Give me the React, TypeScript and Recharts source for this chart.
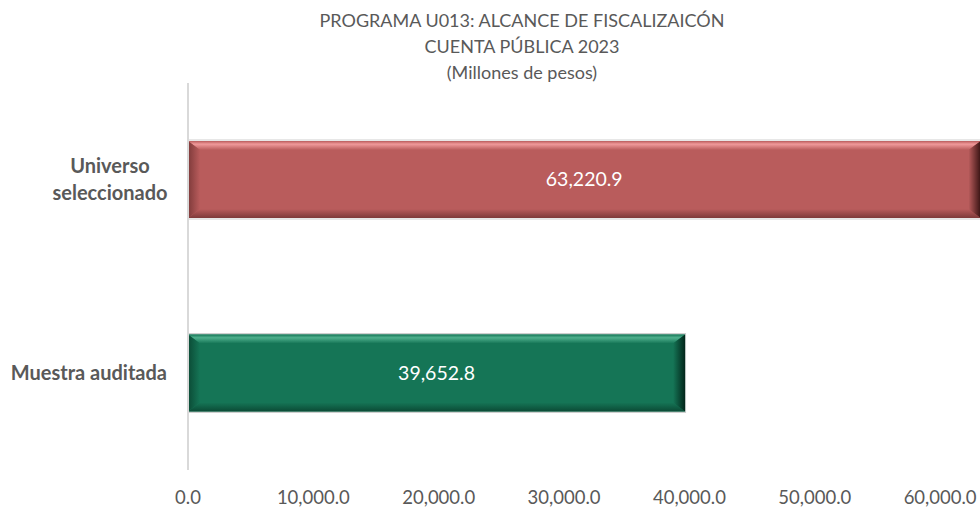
import { BarChart, Bar, XAxis, YAxis, Cell, LabelList } from "recharts";

const categories = ["Universo seleccionado", "Muestra auditada"];
const values = [63220.9, 39652.8];
const xTicks = [0, 10000, 20000, 30000, 40000, 50000, 60000];
const titleLines = [
  "PROGRAMA U013: ALCANCE DE FISCALIZAICÓN",
  "CUENTA PÚBLICA 2023",
  "(Millones de pesos)",
];

const PALETTE = [
  { main: "#B95C5C", light: "#F0999A", dark: "#7E3A3A", edge: "#3A1414" },
  { main: "#157556", light: "#4FB08D", dark: "#0B4A35", edge: "#02261A" },
];

const FONT = "Lato, 'Open Sans', sans-serif";

const chartData = categories.map((name, i) => ({ name, value: values[i] }));

const fmt = (v: number) =>
  v.toLocaleString("en-US", { minimumFractionDigits: 1, maximumFractionDigits: 1 });

function BevelBar(props: any) {
  const { x, y, width, height, index } = props;
  if (!width || width <= 0) return null;
  const c = PALETTE[index % PALETTE.length];
  const bx = Math.min(12, width / 4);
  const by = 9;
  const id = `bev${index}`;
  return (
    <g>
      <defs>
        <linearGradient id={`${id}t`} x1="0" y1="0" x2="0" y2="1">
          <stop offset="0" stopColor={c.main} />
          <stop offset="0.35" stopColor={c.light} />
          <stop offset="1" stopColor={c.main} />
        </linearGradient>
        <linearGradient id={`${id}b`} x1="0" y1="0" x2="0" y2="1">
          <stop offset="0" stopColor={c.main} />
          <stop offset="1" stopColor={c.dark} />
        </linearGradient>
        <linearGradient id={`${id}r`} x1="0" y1="0" x2="1" y2="0">
          <stop offset="0" stopColor={c.main} />
          <stop offset="1" stopColor={c.edge} />
        </linearGradient>
        <linearGradient id={`${id}l`} x1="0" y1="0" x2="1" y2="0">
          <stop offset="0" stopColor={c.dark} />
          <stop offset="1" stopColor={c.main} />
        </linearGradient>
      </defs>
      <rect x={x - 0.5} y={y - 1} width={width + 1} height={height + 2} fill="none" stroke="#cfcfcf" strokeWidth={1} />
      <rect x={x} y={y} width={width} height={height} fill={c.main} />
      <polygon
        points={`${x},${y} ${x + width},${y} ${x + width - bx},${y + by} ${x + bx},${y + by}`}
        fill={`url(#${id}t)`}
      />
      <polygon
        points={`${x},${y + height} ${x + width},${y + height} ${x + width - bx},${y + height - by} ${x + bx},${y + height - by}`}
        fill={`url(#${id}b)`}
      />
      <polygon
        points={`${x},${y} ${x + bx},${y + by} ${x + bx},${y + height - by} ${x},${y + height}`}
        fill={`url(#${id}l)`}
      />
      <polygon
        points={`${x + width},${y} ${x + width - bx},${y + by} ${x + width - bx},${y + height - by} ${x + width},${y + height}`}
        fill={`url(#${id}r)`}
      />
    </g>
  );
}

function CategoryTick(props: any) {
  const { x, y, payload } = props;
  const label: string = payload.value;
  const lines = label === "Universo seleccionado" ? ["Universo", "seleccionado"] : [label];
  const right = x - 13;
  const anchor = lines.length > 1 ? "middle" : "end";
  const ax = lines.length > 1 ? right - 57 : right;
  const lh = 27;
  const start = y - ((lines.length - 1) * lh) / 2;
  return (
    <text
      textAnchor={anchor}
      fill="#595959"
      fontFamily={FONT}
      fontSize={20}
      fontWeight={700}
    >
      {lines.map((l, i) => (
        <tspan key={i} x={ax} y={start + i * lh} dy="0.35em">
          {l}
        </tspan>
      ))}
    </text>
  );
}

export default function App() {
  return (
    <div style={{ position: "absolute", left: 0, top: 0, width: 980, height: 508, overflow: "hidden", background: "#fff" }}>
      <div
        style={{
          position: "absolute",
          left: 222,
          top: 7,
          width: 600,
          textAlign: "center",
          fontFamily: FONT,
          fontSize: 18,
          lineHeight: "26px",
          color: "#595959",
        }}
      >
        {titleLines.map((t, i) => (
          <div key={i}>{t}</div>
        ))}
      </div>
      <div style={{ position: "absolute", left: 0, top: 0 }}>
        <BarChart
          width={1000}
          height={508}
          data={chartData}
          layout="vertical"
          margin={{ top: 83, right: 16, bottom: 0, left: 8 }}
        >
          <XAxis
            type="number"
            domain={[0, 63500]}
            ticks={xTicks}
            allowDataOverflow
            axisLine={false}
            tickLine={false}
            tickMargin={15}
            height={38}
            tickFormatter={fmt}
            tick={{ fill: "#595959", fontFamily: FONT, fontSize: 18.5 }}
            interval={0}
          />
          <YAxis
            type="category"
            dataKey="name"
            width={180}
            axisLine={{ stroke: "#d9d9d9", strokeWidth: 2 }}
            tickLine={false}
            tick={<CategoryTick />}
          />
          <Bar dataKey="value" barSize={77} isAnimationActive={false} shape={<BevelBar />}>
            {chartData.map((_, i) => (
              <Cell key={i} fill={PALETTE[i].main} />
            ))}
            <LabelList
              dataKey="value"
              position="center"
              formatter={(v: any) => fmt(Number(v))}
              fill="#ffffff"
              fontFamily={FONT}
              fontSize={19.5}
            />
          </Bar>
        </BarChart>
      </div>
    </div>
  );
}
